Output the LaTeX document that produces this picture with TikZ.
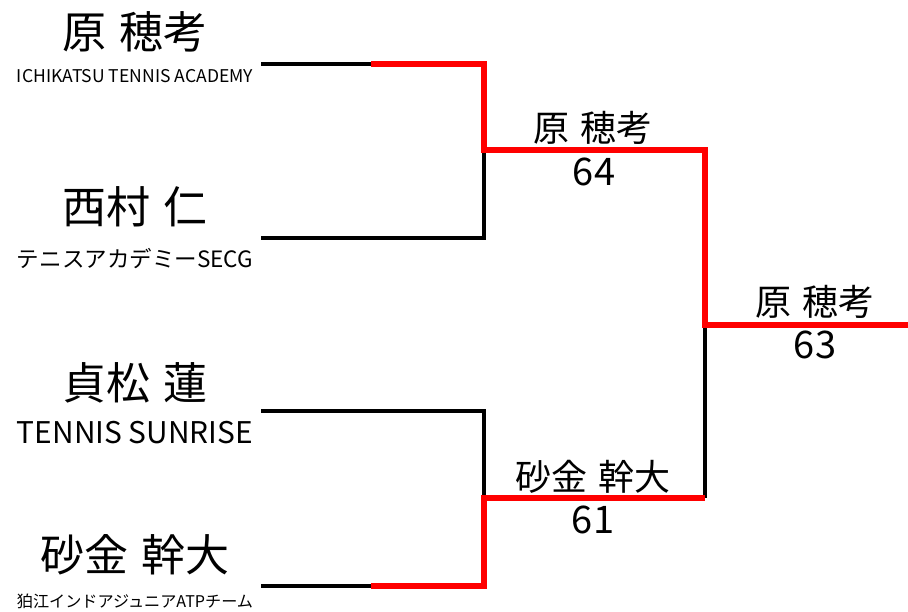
\documentclass[tikz,border=0pt]{standalone}
\usepackage{fontspec}
\usepackage{graphicx}
\setmainfont{Noto Sans CJK JP}
\newcommand{\fitteam}[1]{\resizebox{236pt}{!}{#1}}
\newcommand{\gap}{\hspace{0.3em}}

\begin{document}
\begin{tikzpicture}[x=1pt,y=-1pt,
    lose/.style={line width=4pt,black},
    win/.style={line width=6pt,red},
    player/.style={inner sep=0pt,font=\fontsize{44}{44}\selectfont},
    team/.style={inner sep=0pt},
    winner/.style={inner sep=0pt,font=\fontsize{36}{36}\selectfont},
    score/.style={inner sep=0pt,font=\fontsize{38}{38}\selectfont}]
  \useasboundingbox[fill=white] (0,0) rectangle (908,611);
  \coordinate (a) at (261,64);
  \coordinate (am) at (371,64);
  \coordinate (aj) at (484,64);
  \coordinate (b) at (261,238);
  \coordinate (bj) at (484,238);
  \coordinate (s) at (484,150);
  \coordinate (sr) at (705,150);
  \coordinate (f) at (705,325);
  \coordinate (fe) at (908,325);
  \coordinate (c) at (261,411);
  \coordinate (cj) at (484,411);
  \coordinate (t) at (484,498);
  \coordinate (tr) at (705,498);
  \coordinate (d) at (261,586);
  \coordinate (dm) at (371,586);
  \coordinate (dj) at (484,586);
  \node[player] (na) at (135,32) {原\gap 穂考};
  \node[team] (ta) at (135,76) {\fitteam{ICHIKATSU TENNIS ACADEMY}};
  \node[player] (nb) at (135,207) {西村\gap 仁};
  \node[team] (tb) at (135,259) {\fitteam{テニスアカデミーSECG}};
  \node[player] (nc) at (135,383) {貞松\gap 蓮};
  \node[team] (tc) at (135,433) {\fitteam{TENNIS SUNRISE}};
  \node[player] (nd) at (135,555) {砂金\gap 幹大};
  \node[team] (td) at (135,601) {\fitteam{狛江インドアジュニアATPチーム}};
  \node[winner] (ws) at (593,128) {原\gap 穂考};
  \node[score] (ss) at (594,172) {64};
  \node[winner] (wt) at (593,477) {砂金\gap 幹大};
  \node[score] (st) at (593,520) {61};
  \node[winner] (wf) at (815,302) {原\gap 穂考};
  \node[score] (sf) at (815,345) {63};
  \draw[lose] (a) -- (am);
  \draw[lose] (b) -- (bj) -- (s);
  \draw[lose] (c) -- (cj) -- (t);
  \draw[lose] (d) -- (dm);
  \draw[lose] (tr) -- (f);
  \draw[win] (am) -- (aj) -- (s) -- (sr) -- (f) -- (fe);
  \draw[win] (dm) -- (dj) -- (t) -- (tr);
\end{tikzpicture}
\end{document}
